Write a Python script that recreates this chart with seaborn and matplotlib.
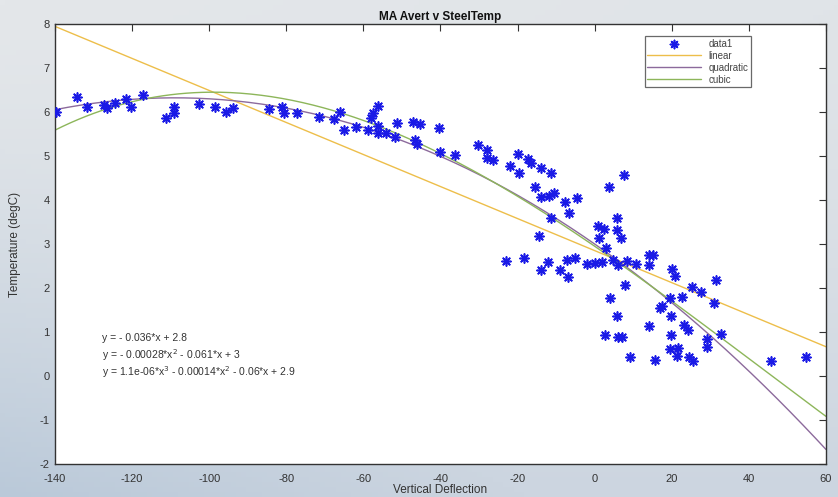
import numpy as np
import pandas as pd
import matplotlib
matplotlib.use("Agg")
import matplotlib.pyplot as plt
import seaborn as sns

# ---- data ----
deflection = [
    -139.7, -134.4, -131.6, -127.4, -126.5, -124.4, -121.5, -120.4, -117.1, -111.2,
    -109.1, -109.0, -102.6, -98.6, -95.6, -93.8, -84.5, -81.1, -80.7, -77.1,
    -71.4, -67.7, -66.1, -64.9, -61.9, -58.9, -58.0, -57.5, -56.3, -56.2,
    -56.1, -54.0, -51.8, -51.4, -47.1, -45.3, -46.6, -46.1, -40.4, -40.1,
    -36.2, -30.2, -27.8, -27.8, -26.3, -21.9, -20.0, -19.5, -17.4, -16.6,
    -14.0, -11.2, -15.4, -13.8, -11.9, -10.6, -7.7, -6.6, -4.7, -11.3,
    -14.4, 3.8, 7.5, 1.0, 2.4, 5.9, 5.7, 1.2, 6.8, 2.9,
    -23.1, -18.3, -14.0, -12.0, -9.0, -7.3, -6.8, -5.1, -2.1, 0.1,
    1.9, 4.8, 6.1, 8.5, 10.7, 14.0, 15.2, 14.2, 20.1, 20.8,
    8.0, 4.0, 5.7, 2.7, 6.1, 7.0, 9.3, 15.6, 14.2, 16.9,
    17.6, 19.5, 19.7, 19.7, 19.5, 21.7, 21.4, 22.6, 23.2, 24.3,
    25.2, 27.5, 24.6, 25.4, 29.1, 29.1, 31.0, 31.6, 32.9, 45.8,
    54.8,
]
steel_temp = [
    6.01, 6.33, 6.11, 6.15, 6.10, 6.20, 6.29, 6.12, 6.38, 5.86,
    6.11, 5.98, 6.19, 6.11, 6.01, 6.08, 6.06, 6.12, 5.98, 5.97,
    5.89, 5.83, 6.01, 5.58, 5.66, 5.58, 5.87, 5.97, 6.14, 5.68,
    5.52, 5.52, 5.44, 5.74, 5.78, 5.72, 5.36, 5.28, 5.64, 5.09,
    5.02, 5.24, 5.14, 4.95, 4.92, 4.78, 5.05, 4.61, 4.94, 4.85,
    4.72, 4.61, 4.29, 4.07, 4.10, 4.15, 3.95, 3.70, 4.04, 3.60,
    3.19, 4.29, 4.57, 3.42, 3.34, 3.58, 3.32, 3.13, 3.13, 2.90,
    2.61, 2.69, 2.40, 2.58, 2.41, 2.64, 2.24, 2.68, 2.55, 2.56,
    2.59, 2.64, 2.52, 2.61, 2.55, 2.75, 2.75, 2.52, 2.44, 2.28,
    2.07, 1.77, 1.36, 0.93, 0.88, 0.88, 0.43, 0.36, 1.14, 1.54,
    1.58, 1.77, 1.36, 0.93, 0.61, 0.63, 0.45, 1.80, 1.16, 1.05,
    2.02, 1.90, 0.44, 0.34, 0.85, 0.67, 1.65, 2.18, 0.95, 0.34,
    0.44,
]

# fit coefficients (highest power first), as printed on the chart
linear_coef = [-0.0364, 2.85]
quadratic_coef = [-0.00028, -0.061, 3.0]
cubic_coef = [1.1e-06, -0.00014, -0.06, 2.95]

fit_labels = ["linear", "quadratic", "cubic"]
fit_colors = ["#EDBE4A", "#8C6A9C", "#8DB65A"]
equations = [
    "y = - 0.036*x + 2.8",
    "y = - 0.00028*x$^{2}$ - 0.061*x + 3",
    "y = 1.1e-06*x$^{3}$ - 0.00014*x$^{2}$ - 0.06*x + 2.9",
]

title = "MA Avert v SteelTemp"
xlabel = "Vertical Deflection"
ylabel = "Temperature (degC)"
xticks = list(range(-140, 61, 20))
yticks = list(range(-2, 9, 1))

# ---- styling ----
sns.set_style("white")
plt.rcParams["font.family"] = ["Liberation Sans", "DejaVu Sans"]
plt.rcParams["axes.unicode_minus"] = False

fig = plt.figure(figsize=(8.38, 4.97), dpi=100)

# background gradient (bluish-grey like the screenshot)
bg = fig.add_axes([0, 0, 1, 1], zorder=-10)
h, w = 100, 160
yy, xx = np.mgrid[0:1:complex(0, h), 0:1:complex(0, w)]
tl = np.array([228, 231, 234]) / 255
tr = np.array([224, 228, 232]) / 255
bl = np.array([186, 201, 217]) / 255
br = np.array([204, 213, 224]) / 255
left_w = np.clip(1 - xx * 1.6, 0, 1)[..., None]
top = tl * (1 - xx[..., None]) + tr * xx[..., None]
bot = bl * left_w + br * (1 - left_w)
grad = top * (1 - yy[..., None] ** 1.5) + bot * (yy[..., None] ** 1.5)
bg.imshow(grad, aspect="auto", extent=[0, 1, 0, 1], origin="upper")
bg.axis("off")

ax = fig.add_axes([0.0656, 0.0664, 0.9200, 0.8853], zorder=1)
ax.set_facecolor("white")

df = pd.DataFrame({"x": deflection, "y": steel_temp})
sns.scatterplot(data=df, x="x", y="y", ax=ax, marker=(8, 2, 0), s=42,
                color="#1A1AE6", linewidth=1.2, label="data1", zorder=3)

xs = np.linspace(-140, 60, 300)
for coef, lab, col in zip([linear_coef, quadratic_coef, cubic_coef], fit_labels, fit_colors):
    sns.lineplot(x=xs, y=np.polyval(coef, xs), ax=ax, color=col, linewidth=1.0,
                 label=lab, zorder=2)

ax.set_xlim(-140, 60)
ax.set_ylim(-2, 8)
ax.set_xticks(xticks)
ax.set_yticks(yticks)
ax.tick_params(direction="in", length=5, width=0.8, top=True, right=True,
               labelsize=8, colors="#333333", pad=3)
ax.tick_params(axis="x", labeltop=False, pad=7)
ax.tick_params(axis="y", labelright=False, pad=4)
for sp in ax.spines.values():
    sp.set_color("#333333")
    sp.set_linewidth(1.0)

ax.set_title(title, fontsize=8.5, fontweight="bold", pad=3, color="#111111")
ax.set_xlabel(xlabel, fontsize=8.5, labelpad=0, color="#333333")
ax.set_ylabel(ylabel, fontsize=8.5, labelpad=13, color="#333333")

for i, eq in enumerate(equations):
    ax.text(-127.9, 0.86 - i * 0.39, eq, fontsize=7.5, color="#333333",
            va="center", ha="left")

leg = ax.legend(loc="upper left", bbox_to_anchor=(0.765, 0.972), borderaxespad=0,
                fontsize=7, frameon=True, fancybox=False, edgecolor="#444444",
                handlelength=5.5, labelspacing=0.2, borderpad=0.25,
                handletextpad=0.8, markerscale=0.9)
leg.get_frame().set_linewidth(0.9)
for t in leg.get_texts():
    t.set_color("#444444")

fig.savefig("out.png", dpi=100)
